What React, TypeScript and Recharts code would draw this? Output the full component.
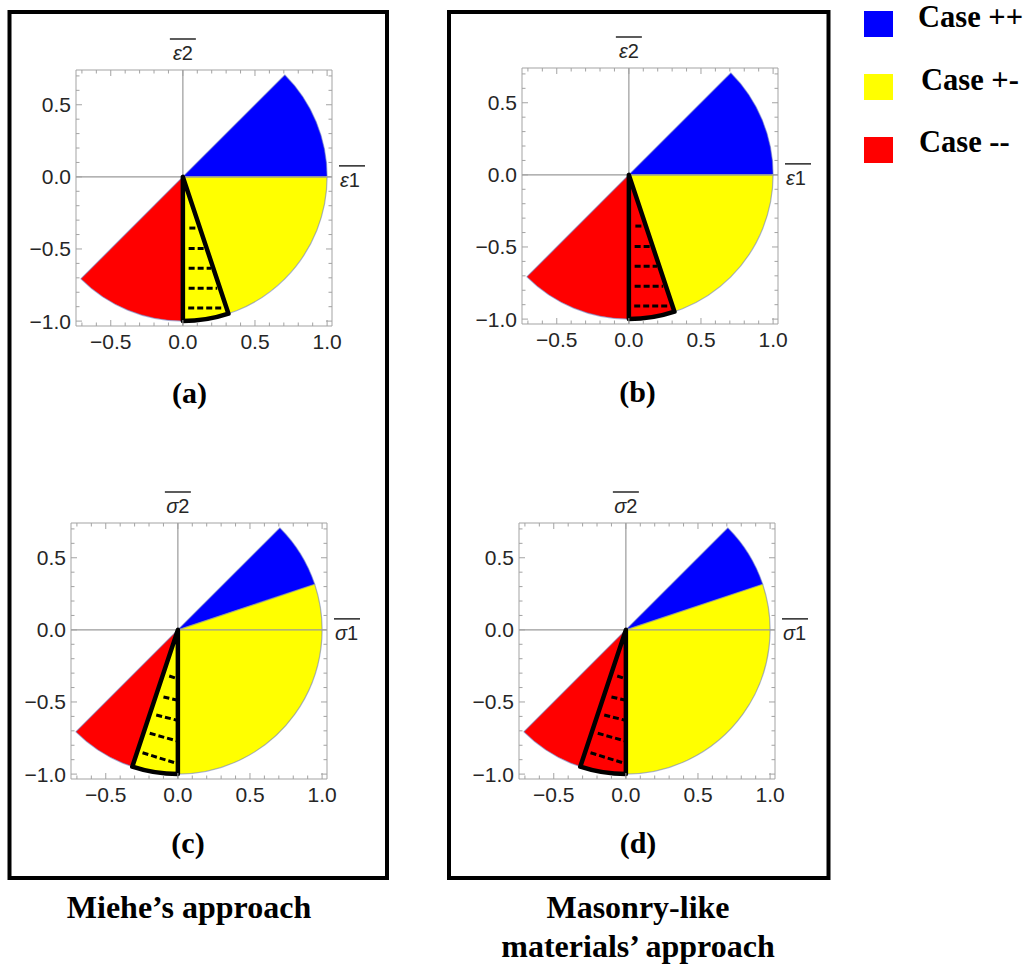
import React from 'react';
import { ScatterChart, Scatter, XAxis, YAxis } from 'recharts';

type Pt = { x: number; y: number };

// Cases, in order ++, +-, --
const caseNames = ['Case ++', 'Case +-', 'Case --'];
const caseColors = ['#0000ff', '#ffff00', '#ff0000'];

// Angular extent of each case (degrees), same order as caseNames
const strainFrom = [0, -90, -135];
const strainTo = [45, 0, -90];
const stressFrom = [18.43, -90, -135];
const stressTo = [45, 18.43, -90];

// Highlighted wedge (degrees)
const strainWedge = [-90, -71.57];
const stressWedge = [-108.43, -90];

// Hatch strokes inside the wedge: [x1, y1, x2, y2]
const strainHatch = [
  [0.045, -0.355, 0.095, -0.355],
  [0.04, -0.497, 0.147, -0.497],
  [0.04, -0.633, 0.195, -0.633],
  [0.04, -0.772, 0.238, -0.772],
  [0.037, -0.91, 0.27, -0.91],
];
const stressHatch = [
  [-0.06, -0.32, 0, -0.34],
  [-0.1, -0.465, 0, -0.488],
  [-0.15, -0.59, 0, -0.628],
  [-0.195, -0.717, 0, -0.772],
  [-0.245, -0.852, -0.01, -0.925],
];

const radius = 1;

// Plot ranges and frame ticks
const xDomain = [-0.741, 1.034];
const yDomain = [-1.034, 0.741];
const xTickValues = [-0.7, -0.6, -0.5, -0.4, -0.3, -0.2, -0.1, 0, 0.1, 0.2, 0.3, 0.4, 0.5, 0.6, 0.7, 0.8, 0.9, 1.0];
const yTickValues = [-1.0, -0.9, -0.8, -0.7, -0.6, -0.5, -0.4, -0.3, -0.2, -0.1, 0, 0.1, 0.2, 0.3, 0.4, 0.5, 0.6, 0.7];
const xTickLabels: Record<string, string> = { '-0.5': '−0.5', '0.0': '0.0', '0.5': '0.5', '1.0': '1.0' };
const yTickLabels: Record<string, string> = { '-1.0': '−1.0', '-0.5': '−0.5', '0.0': '0.0', '0.5': '0.5' };

const FRAME = '#a3a3a3';
const TICK_FONT = '"Liberation Sans", Arial, Helvetica, sans-serif';
const SERIF = '"Liberation Serif", "Times New Roman", Times, serif';

const PLOT = 256;
const AXIS_W = 64;
const AXIS_H = 36;
const PAD = 4;
const RPAD = 26;

const toRad = Math.PI / 180;
const arcPoints = (a0: number, a1: number, r: number = radius): Pt[] => [
  { x: 0, y: 0 },
  { x: r * Math.cos(a0 * toRad), y: r * Math.sin(a0 * toRad) },
  { x: r * Math.cos(a1 * toRad), y: r * Math.sin(a1 * toRad) },
];

const Hidden = () => <g />;

// Draws a circular sector from the pixel points [centre, start, end]
const sectorLine =
  (fill: string, stroke: string, strokeWidth: number, strokeOpacity = 1) =>
  (props: any) => {
    const pts = props.points as Pt[] | undefined;
    if (!pts || pts.length < 3) return <g />;
    const [o, s, e] = pts;
    const r = Math.hypot(s.x - o.x, s.y - o.y);
    const d = `M${o.x},${o.y}L${s.x},${s.y}A${r},${r} 0 0 0 ${e.x},${e.y}Z`;
    return (
      <path
        d={d}
        fill={fill}
        stroke={stroke}
        strokeWidth={strokeWidth}
        strokeOpacity={strokeOpacity}
        strokeLinejoin="round"
      />
    );
  };

// Draws consecutive point pairs as separate segments
const segmentLine =
  (stroke: string, strokeWidth: number, dash?: string) =>
  (props: any) => {
    const pts = (props.points || []) as Pt[];
    const segs: React.ReactNode[] = [];
    for (let i = 0; i + 1 < pts.length; i += 2) {
      segs.push(
        <line
          key={i}
          x1={pts[i].x}
          y1={pts[i].y}
          x2={pts[i + 1].x}
          y2={pts[i + 1].y}
          stroke={stroke}
          strokeWidth={strokeWidth}
          strokeDasharray={dash}
        />
      );
    }
    return <g>{segs}</g>;
  };

const isMajor = (map: Record<string, string>, v: number) => map[v.toFixed(1)] !== undefined;

const BottomTick = (props: any) => {
  const { x, y, payload } = props;
  const key = Number(payload.value).toFixed(1);
  const label = xTickLabels[key];
  return (
    <g>
      <line x1={x} x2={x} y1={y} y2={y - (label ? 6 : 3.5)} stroke={FRAME} />
      {label && (
        <text x={x} y={y + 23} textAnchor="middle" fontSize={21} fill="#262626" fontFamily={TICK_FONT}>
          {label}
        </text>
      )}
    </g>
  );
};

const TopTick = (props: any) => {
  const { x, y, payload } = props;
  const major = isMajor(xTickLabels, Number(payload.value));
  return <line x1={x} x2={x} y1={y} y2={y + (major ? 6 : 3.5)} stroke={FRAME} />;
};

const LeftTick = (props: any) => {
  const { x, y, payload } = props;
  const key = Number(payload.value).toFixed(1);
  const label = yTickLabels[key];
  return (
    <g>
      <line x1={x} x2={x + (label ? 6 : 3.5)} y1={y} y2={y} stroke={FRAME} />
      {label && (
        <text x={x - 5} y={y + 7.5} textAnchor="end" fontSize={21} fill="#262626" fontFamily={TICK_FONT}>
          {label}
        </text>
      )}
    </g>
  );
};

const RightTick = (props: any) => {
  const { x, y, payload } = props;
  const major = isMajor(yTickLabels, Number(payload.value));
  return <line x1={x} x2={x - (major ? 6 : 3.5)} y1={y} y2={y} stroke={FRAME} />;
};

type PanelProps = {
  left: number;
  top: number;
  from: number[];
  to: number[];
  wedge: number[];
  wedgeCase: number;
  hatch: number[][];
};

function Panel({ left, top, from, to, wedge, wedgeCase, hatch }: PanelProps) {
  const axisLines: Pt[] = [
    { x: xDomain[0], y: 0 },
    { x: xDomain[1], y: 0 },
    { x: 0, y: yDomain[0] },
    { x: 0, y: yDomain[1] },
  ];
  const hatchPts: Pt[] = hatch.flatMap(([x1, y1, x2, y2]) => [
    { x: x1, y: y1 },
    { x: x2, y: y2 },
  ]);
  return (
    <div style={{ position: 'absolute', left: left - AXIS_W, top: top - PAD }}>
      <ScatterChart
        width={AXIS_W + PLOT + RPAD}
        height={PAD + PLOT + AXIS_H}
        margin={{ top: PAD - 1, right: RPAD - 1, bottom: 0, left: 0 }}
      >
        <XAxis
          type="number"
          dataKey="x"
          domain={xDomain}
          allowDataOverflow
          ticks={xTickValues}
          interval={0}
          tick={BottomTick}
          tickLine={false}
          tickSize={0}
          tickMargin={0}
          axisLine={{ stroke: FRAME }}
          height={AXIS_H}
        />
        <XAxis
          xAxisId="top"
          orientation="top"
          type="number"
          dataKey="x"
          domain={xDomain}
          allowDataOverflow
          ticks={xTickValues}
          interval={0}
          tick={TopTick}
          tickLine={false}
          tickSize={0}
          tickMargin={0}
          axisLine={{ stroke: FRAME }}
          height={1}
        />
        <YAxis
          type="number"
          dataKey="y"
          domain={yDomain}
          allowDataOverflow
          ticks={yTickValues}
          interval={0}
          tick={LeftTick}
          tickLine={false}
          tickSize={0}
          tickMargin={0}
          axisLine={{ stroke: FRAME }}
          width={AXIS_W}
        />
        <YAxis
          yAxisId="right"
          orientation="right"
          type="number"
          dataKey="y"
          domain={yDomain}
          allowDataOverflow
          ticks={yTickValues}
          interval={0}
          tick={RightTick}
          tickLine={false}
          tickSize={0}
          tickMargin={0}
          axisLine={{ stroke: FRAME }}
          width={1}
        />
        {from.map((f, i) => (
          <Scatter
            key={`sector-${i}`}
            name={caseNames[i]}
            data={arcPoints(f, to[i])}
            shape={Hidden}
            line={sectorLine(caseColors[i], '#6677bb', 1.2, 0.55)}
            legendType="none"
            isAnimationActive={false}
          />
        ))}
        <Scatter
          name="axes"
          xAxisId="top"
          yAxisId="right"
          data={axisLines}
          shape={Hidden}
          line={segmentLine('#9a9a9a', 1.2)}
          legendType="none"
          isAnimationActive={false}
        />
        <Scatter
          name="wedge"
          data={arcPoints(wedge[0], wedge[1])}
          shape={Hidden}
          line={sectorLine(caseColors[wedgeCase], '#000000', 4.5)}
          legendType="none"
          isAnimationActive={false}
        />
        <Scatter
          name="hatch"
          data={hatchPts}
          shape={Hidden}
          line={segmentLine('#000000', 3, '6 3')}
          legendType="none"
          isAnimationActive={false}
        />
      </ScatterChart>
    </div>
  );
}

// Axis caption with an overbar: symbol + index
function BarLabel({ x, y, sym, idx, anchor }: { x: number; y: number; sym: string; idx: string; anchor: 'middle' | 'start' }) {
  const w = 24;
  const x0 = anchor === 'middle' ? x - w / 2 : x;
  return (
    <g>
      <text x={x} y={y} textAnchor={anchor} fontSize={20} fill="#262626" fontFamily={TICK_FONT}>
        <tspan fontStyle="italic">{sym}</tspan>
        <tspan>{idx}</tspan>
      </text>
      <line x1={x0 - 1} x2={x0 + w + 1} y1={y - 21} y2={y - 21} stroke="#262626" strokeWidth={1.5} />
    </g>
  );
}

const panels = [
  { id: '(a)', left: 76, top: 70, from: strainFrom, to: strainTo, wedge: strainWedge, wedgeCase: 1, hatch: strainHatch, sym: 'ε', lx: 189.5, ly: 403 },
  { id: '(b)', left: 522, top: 68, from: strainFrom, to: strainTo, wedge: strainWedge, wedgeCase: 2, hatch: strainHatch, sym: 'ε', lx: 637.5, ly: 402 },
  { id: '(c)', left: 71, top: 523, from: stressFrom, to: stressTo, wedge: stressWedge, wedgeCase: 1, hatch: stressHatch, sym: 'σ', lx: 188, ly: 853 },
  { id: '(d)', left: 519, top: 523, from: stressFrom, to: stressTo, wedge: stressWedge, wedgeCase: 2, hatch: stressHatch, sym: 'σ', lx: 638, ly: 853 },
];

const legendY = [11, 74, 137];
const legendTextX = [918, 921, 919];
const legendBase = [27, 90, 152];

export default function App() {
  const unit = PLOT / (xDomain[1] - xDomain[0]);
  return (
    <div
      style={{
        position: 'absolute',
        left: 0,
        top: 0,
        width: 1034,
        height: 967,
        background: '#ffffff',
        overflow: 'hidden',
      }}
    >
      {panels.map((p) => (
        <Panel
          key={p.id}
          left={p.left}
          top={p.top}
          from={p.from}
          to={p.to}
          wedge={p.wedge}
          wedgeCase={p.wedgeCase}
          hatch={p.hatch}
        />
      ))}
      <svg
        width={1034}
        height={967}
        style={{ position: 'absolute', left: 0, top: 0, pointerEvents: 'none' }}
      >
        <rect x={9.5} y={12} width={377.5} height={866} fill="none" stroke="#000" strokeWidth={4} />
        <rect x={449} y={12} width={379.5} height={866} fill="none" stroke="#000" strokeWidth={4} />

        {panels.map((p) => {
          const x0 = p.left + (0 - xDomain[0]) * unit;
          const y0 = p.top + (yDomain[1] - 0) * unit;
          return (
            <g key={`lab-${p.id}`}>
              <BarLabel x={x0} y={p.top - 10} sym={p.sym} idx="2" anchor="middle" />
              <BarLabel x={p.left + PLOT + 8} y={y0 + 10} sym={p.sym} idx="1" anchor="start" />
              <text x={p.lx} y={p.ly} textAnchor="middle" fontSize={30} fontWeight="bold" fontFamily={SERIF} fill="#000">
                {p.id}
              </text>
            </g>
          );
        })}

        {caseNames.map((n, i) => (
          <g key={n}>
            <rect x={864} y={legendY[i]} width={29} height={26} fill={caseColors[i]} />
            <text x={legendTextX[i]} y={legendBase[i]} fontSize={30.5} fontWeight="bold" fontFamily={SERIF} fill="#000">
              {n}
            </text>
          </g>
        ))}

        <text x={189} y={918} textAnchor="middle" fontSize={32} fontWeight="bold" fontFamily={SERIF} fill="#000">
          Miehe’s approach
        </text>
        <text x={638} y={918} textAnchor="middle" fontSize={32} fontWeight="bold" fontFamily={SERIF} fill="#000">
          Masonry-like
        </text>
        <text x={638} y={957} textAnchor="middle" fontSize={32} fontWeight="bold" fontFamily={SERIF} fill="#000">
          materials’ approach
        </text>
      </svg>
    </div>
  );
}
